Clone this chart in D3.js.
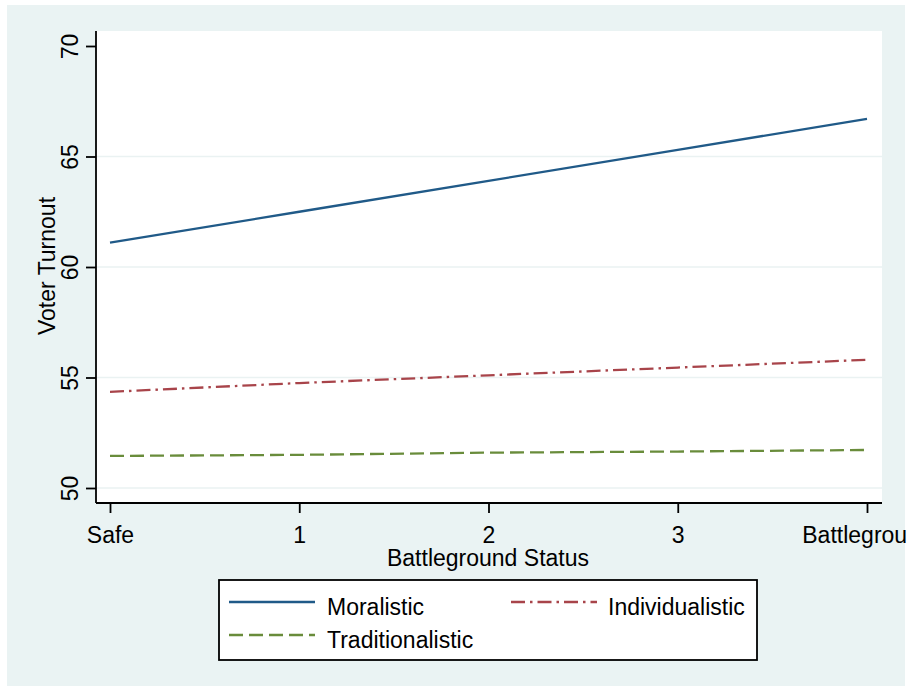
<!DOCTYPE html>
<html>
<head>
<meta charset="utf-8">
<script src="https://cdn.jsdelivr.net/npm/d3@7/dist/d3.min.js"></script>
<style>
  html, body { margin: 0; padding: 0; background: #ffffff; overflow: hidden; }
  svg { display: block; }
  text { font-family: "Liberation Sans", Arial, Helvetica, sans-serif; fill: #000; }
</style>
</head>
<body>
<svg id="chart" width="908" height="686"></svg>
<script>
// Battleground status positions (0 = Safe ... 4 = Battleground)
const status = [0, 1, 2, 3, 4];
const xTickLabels = ["Safe", "1", "2", "3", "Battleground"];
const yTicks = [50, 55, 60, 65, 70];
const gridTicks = [50, 55, 60, 65];

// Predicted voter turnout by political culture
const moralistic = [61.1, 62.5, 63.9, 65.3, 66.7];
const individualistic = [54.35, 54.75, 55.1, 55.45, 55.8];
const traditionalistic = [51.45, 51.5, 51.6, 51.65, 51.72];

const seriesNames = ["Moralistic", "Individualistic", "Traditionalistic"];

const svg = d3.select("#chart");

// Graph region background
svg.append("rect")
  .attr("x", 7).attr("y", 5).attr("width", 898).attr("height", 681)
  .attr("fill", "#eaf3f3");

// Plot region
const plot = { left: 96, right: 882, top: 31, bottom: 503 };
svg.append("rect")
  .attr("x", plot.left).attr("y", plot.top)
  .attr("width", plot.right - plot.left).attr("height", plot.bottom - plot.top)
  .attr("fill", "#ffffff");

const x = d3.scaleLinear().domain([0, 4]).range([110, 867]);
const y = d3.scaleLinear().domain([50, 70]).range([488, 46]);

// Horizontal grid lines
svg.append("g").selectAll("line").data(gridTicks).join("line")
  .attr("x1", plot.left).attr("x2", plot.right)
  .attr("y1", d => y(d)).attr("y2", d => y(d))
  .attr("stroke", "#eaf2f2").attr("stroke-width", 1.6);

// Series lines
const series = [
  { name: seriesNames[0], values: moralistic, color: "#205a88", dash: null },
  { name: seriesNames[1], values: individualistic, color: "#a8444a", dash: "14,5,2.5,5" },
  { name: seriesNames[2], values: traditionalistic, color: "#698c3b", dash: "14,6" }
];

const line = d3.line().x((d, i) => x(status[i])).y(d => y(d));

svg.append("g").selectAll("path").data(series).join("path")
  .attr("d", d => line(d.values))
  .attr("fill", "none")
  .attr("stroke", d => d.color)
  .attr("stroke-width", 2.3)
  .attr("stroke-dasharray", d => d.dash);

// Y axis
const yAxis = svg.append("g")
  .attr("transform", `translate(${plot.left},0)`)
  .call(d3.axisLeft(y).tickValues(yTicks).tickSize(10).tickSizeOuter(0).tickFormat(d3.format("d")));
yAxis.select(".domain").remove();
yAxis.append("line")
  .attr("x1", 0).attr("x2", 0).attr("y1", plot.top).attr("y2", plot.bottom)
  .attr("stroke", "#000").attr("stroke-width", 1.8);
yAxis.selectAll(".tick line").attr("stroke", "#000").attr("stroke-width", 1.8);
yAxis.selectAll(".tick text")
  .attr("x", null).attr("dy", null)
  .attr("transform", "translate(-18,0) rotate(-90)")
  .attr("text-anchor", "middle")
  .attr("font-size", 23)
  .attr("font-family", "Liberation Sans, Arial, sans-serif")
  .attr("fill", "#000");

// X axis
const xAxis = svg.append("g")
  .attr("transform", `translate(0,${plot.bottom})`)
  .call(d3.axisBottom(x).tickValues(status).tickSize(10).tickSizeOuter(0)
    .tickFormat((d, i) => xTickLabels[i]));
xAxis.select(".domain").remove();
xAxis.append("line")
  .attr("x1", plot.left).attr("x2", plot.right).attr("y1", 0).attr("y2", 0)
  .attr("stroke", "#000").attr("stroke-width", 1.8);
xAxis.selectAll(".tick line").attr("stroke", "#000").attr("stroke-width", 1.8);
xAxis.selectAll(".tick text")
  .attr("y", 40).attr("dy", null)
  .attr("font-size", 23)
  .attr("font-family", "Liberation Sans, Arial, sans-serif")
  .attr("fill", "#000");

// Axis titles
svg.append("text")
  .attr("x", 488).attr("y", 566)
  .attr("text-anchor", "middle").attr("font-size", 23)
  .text("Battleground Status");

svg.append("text")
  .attr("transform", "translate(55,266) rotate(-90)")
  .attr("text-anchor", "middle").attr("font-size", 23)
  .text("Voter Turnout");

// Legend
const legend = svg.append("g");
legend.append("rect")
  .attr("x", 219).attr("y", 580).attr("width", 538).attr("height", 80)
  .attr("fill", "#ffffff").attr("stroke", "#000").attr("stroke-width", 1.8);

const legendPos = [
  { lx: 229, ly: 602, tx: 327, ty: 615 },
  { lx: 511, ly: 602, tx: 608, ty: 615 },
  { lx: 229, ly: 635, tx: 327, ty: 648 }
];

series.forEach((s, i) => {
  const p = legendPos[i];
  legend.append("line")
    .attr("x1", p.lx).attr("x2", p.lx + 86)
    .attr("y1", p.ly).attr("y2", p.ly)
    .attr("stroke", s.color).attr("stroke-width", 2.3)
    .attr("stroke-dasharray", s.dash);
  legend.append("text")
    .attr("x", p.tx).attr("y", p.ty)
    .attr("font-size", 23)
    .text(s.name);
});
</script>
</body>
</html>
